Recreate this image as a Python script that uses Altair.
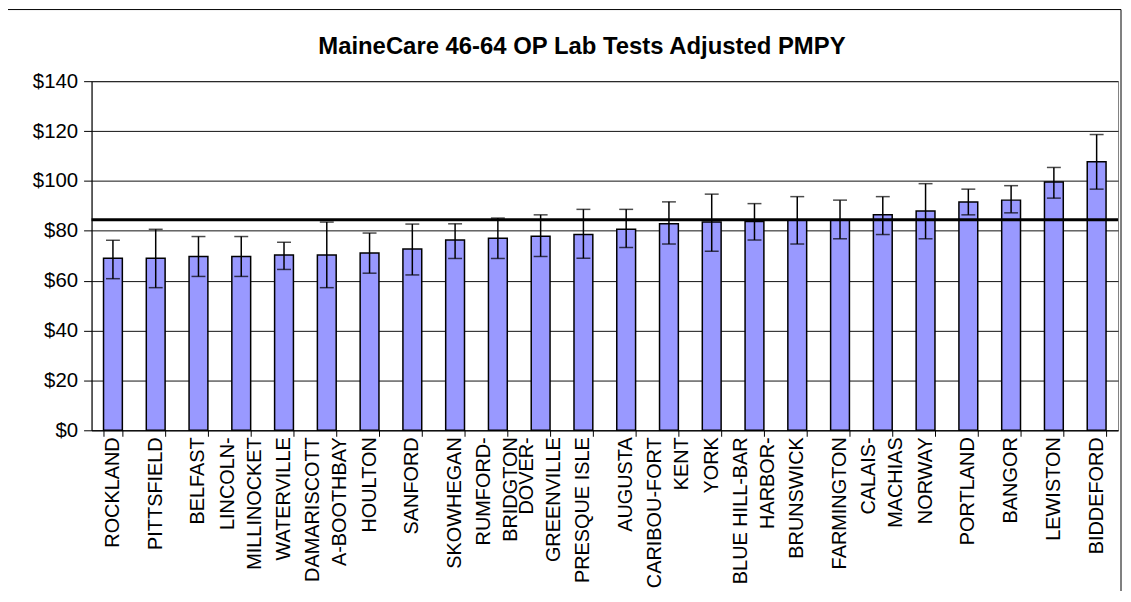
import altair as alt
import pandas as pd

title_text = "MaineCare 46-64 OP Lab Tests Adjusted PMPY"

regions = [
    "ROCKLAND", "PITTSFIELD", "BELFAST", "LINCOLN-\nMILLINOCKET", "WATERVILLE",
    "DAMARISCOTT\nA-BOOTHBAY", "HOULTON", "SANFORD", "SKOWHEGAN", "RUMFORD-\nBRIDGTON",
    "DOVER-\nGREENVILLE", "PRESQUE ISLE", "AUGUSTA", "CARIBOU-FORT\nKENT", "YORK",
    "BLUE HILL-BAR\nHARBOR-", "BRUNSWICK", "FARMINGTON", "CALAIS-\nMACHIAS", "NORWAY",
    "PORTLAND", "BANGOR", "LEWISTON", "BIDDEFORD",
]
pmpy = [69.0, 69.0, 69.7, 69.7, 70.3, 70.3, 71.1, 72.7, 76.3, 77.0,
        77.8, 78.5, 80.6, 82.8, 83.5, 83.7, 84.2, 84.4, 86.4, 87.9,
        91.5, 92.3, 99.6, 107.7]
ci_low = [60.8, 57.2, 61.7, 61.7, 64.5, 57.2, 63.0, 62.3, 68.9, 68.9,
          69.7, 69.0, 73.3, 74.7, 71.8, 76.3, 74.7, 76.8, 78.5, 76.8,
          86.4, 87.2, 93.1, 96.7]
ci_high = [76.2, 80.6, 77.7, 77.7, 75.4, 83.5, 79.1, 82.7, 82.8, 85.1,
           86.4, 88.6, 88.6, 91.6, 94.7, 90.9, 93.7, 92.3, 93.7, 98.9,
           96.7, 98.1, 105.4, 118.6]
state_average = 84.4
y_ticks = [0, 20, 40, 60, 80, 100, 120, 140]

lines = [r.split("\n") for r in regions]
df = pd.DataFrame({
    "region": regions, "pmpy": pmpy, "low": ci_low, "high": ci_high,
    "l1": [l[0] for l in lines],
    "l2": [l[1] if len(l) > 1 else "" for l in lines],
    "n": [len(l) for l in lines],
})

FONT = "Liberation Sans, Arial, sans-serif"
W, H = 1032, 351
LABEL_SIZE = 20
LINE_GAP = 13.5

x_enc = alt.X(
    "region:N",
    sort=regions,
    scale=alt.Scale(paddingInner=0.56, paddingOuter=0.28),
    axis=alt.Axis(
        title=None, labels=False,
        tickBand="extent", tickSize=6, tickColor="#000",
        domainColor="#000", domainWidth=1,
    ),
)
x_plain = alt.X("region:N", sort=regions)
y_scale = alt.Scale(domain=[0, 140], nice=False)

base = alt.Chart(df)

bars = base.mark_bar(fill="#9999FF", stroke="#000", strokeWidth=1.5).encode(
    x=x_enc,
    y=alt.Y(
        "pmpy:Q", scale=y_scale,
        axis=alt.Axis(
            title=None, values=y_ticks, format="$.0f", labelFont=FONT,
            labelFontSize=20.5, labelColor="#000", tickSize=8, tickColor="#000",
            labelPadding=6, domainColor="#000", grid=True, gridColor="#111",
            gridWidth=1,
        ),
    ),
)

err = base.mark_rule(color="#000", strokeWidth=1.5).encode(
    x=x_plain, y=alt.Y("low:Q", scale=y_scale), y2="high:Q"
)
cap_lo = base.mark_tick(color="#000", size=14, thickness=1.5).encode(
    x=x_plain, y=alt.Y("low:Q", scale=y_scale)
)
cap_hi = base.mark_tick(color="#000", size=14, thickness=1.5).encode(
    x=x_plain, y=alt.Y("high:Q", scale=y_scale)
)

avg_line = alt.Chart(pd.DataFrame({"avg": [state_average]})).mark_rule(
    color="#000", strokeWidth=3
).encode(y=alt.Y("avg:Q", scale=y_scale))

text_style = dict(angle=270, align="right", baseline="middle", font=FONT,
                  fontSize=LABEL_SIZE, color="#000")
lab_single = base.transform_filter("datum.n == 1").mark_text(**text_style).encode(
    x=x_plain, y=alt.value(H + 7), text="l1:N"
)
lab_first = base.transform_filter("datum.n == 2").mark_text(dy=-LINE_GAP, **text_style).encode(
    x=x_plain, y=alt.value(H + 7), text="l1:N"
)
lab_second = base.transform_filter("datum.n == 2").mark_text(dy=LINE_GAP, **text_style).encode(
    x=x_plain, y=alt.value(H + 7), text="l2:N"
)

one = pd.DataFrame({"k": [0]})
frame = alt.Chart(one).mark_rect(fillOpacity=0, stroke="#000", strokeWidth=1).encode(
    x=alt.value(-87), x2=alt.value(1035), y=alt.value(-72), y2=alt.value(560)
)
title = alt.Chart(one).mark_text(
    font=FONT, fontSize=24, fontWeight="bold", color="#000",
    align="center", baseline="alphabetic",
).encode(x=alt.value(493), y=alt.value(-27), text=alt.value(title_text))

chart = alt.layer(
    frame, bars, err, cap_lo, cap_hi, avg_line,
    lab_single, lab_first, lab_second, title,
).properties(
    width=W, height=H,
    autosize=alt.AutoSizeParams(type="none"),
    padding={"left": 84, "top": 72, "right": 5, "bottom": 160},
    background="white",
).configure_view(stroke="#808080", strokeWidth=1)

chart.save("out.html", embed_options={"renderer": "svg", "actions": False})
